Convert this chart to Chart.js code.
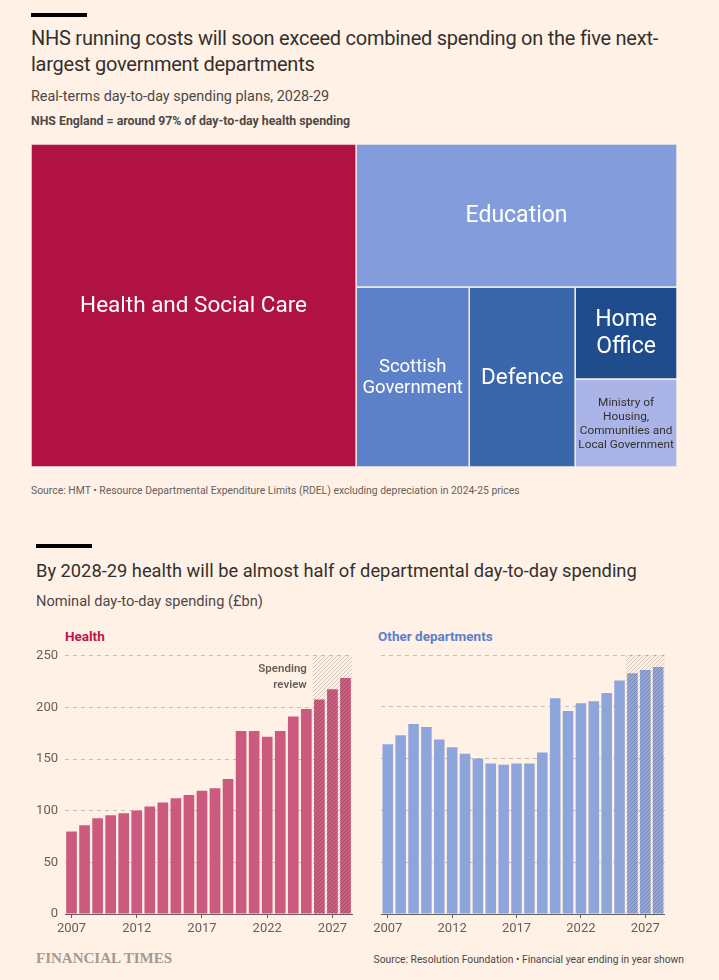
<!DOCTYPE html>
<html>
<head>
<meta charset="utf-8">
<script src="https://cdn.jsdelivr.net/npm/chart.js@4.4.1/dist/chart.umd.min.js"></script>
<style>
  html, body { margin: 0; padding: 0; }
  body { width: 719px; height: 980px; background: #fff1e5; position: relative; overflow: hidden;
         font-family: Roboto, "Open Sans", sans-serif; color: #33302e; }
  .abs { position: absolute; white-space: nowrap; }
  .rule { position: absolute; width: 56px; height: 4px; background: #000; }
  #title1 { left: 31px; top: 25px; font-size: 20px; line-height: 26px; letter-spacing: -0.25px; }
  #sub1 { left: 31px; top: 88px; font-size: 14.4px; line-height: 18px; color: #4d4845; }
  #note1 { left: 31px; top: 113px; font-size: 12.3px; line-height: 16px; font-weight: 700; color: #4d4845; }
  #src1 { left: 31px; top: 484px; font-size: 10.4px; line-height: 14px; color: #66605c; }
  #title2 { left: 36px; top: 559px; font-size: 18.3px; line-height: 24px; }
  #sub2 { left: 36px; top: 592px; font-size: 14.6px; line-height: 18px; color: #4d4845; }
  #labHealth { left: 65px; top: 628px; font-size: 13.5px; line-height: 16px; font-weight: 700; color: #b8174b; }
  #labOther { left: 378px; top: 628px; font-size: 13.5px; line-height: 16px; font-weight: 700; color: #5b80cd; }
  #ft { left: 36px; top: 949px; font-family: "Liberation Serif", "DejaVu Serif", serif; font-size: 15px;
        line-height: 18px; font-weight: 700; color: #a29a93; }
  #src2 { right: 35px; top: 953px; font-size: 10.3px; line-height: 14px; color: #4d4845; }
  canvas { position: absolute; }
</style>
</head>
<body>
<div class="rule" style="left:31px;top:13px;"></div>
<div id="title1" class="abs">NHS running costs will soon exceed combined spending on the five next-<br>largest government departments</div>
<div id="sub1" class="abs">Real-terms day-to-day spending plans, 2028-29</div>
<div id="note1" class="abs">NHS England = around 97% of day-to-day health spending</div>
<canvas id="tree" width="646" height="323" style="left:31px;top:144px;"></canvas>
<div id="src1" class="abs">Source: HMT • Resource Departmental Expenditure Limits (RDEL) excluding depreciation in 2024-25 prices</div>

<div class="rule" style="left:36px;top:544px;"></div>
<div id="title2" class="abs">By 2028-29 health will be almost half of departmental day-to-day spending</div>
<div id="sub2" class="abs">Nominal day-to-day spending (£bn)</div>
<div id="labHealth" class="abs">Health</div>
<div id="labOther" class="abs">Other departments</div>
<canvas id="health" width="340" height="302" style="left:20px;top:641px;"></canvas>
<canvas id="other" width="340" height="298" style="left:370px;top:645px;"></canvas>
<div id="ft" class="abs">FINANCIAL TIMES</div>
<div id="src2" class="abs">Source: Resolution Foundation • Financial year ending in year shown</div>

<script>
// ---- treemap data (real-terms RDEL 2028-29, £bn)
const departments = ['Health and Social Care', 'Education', 'Scottish Government', 'Defence',
  'Home Office', 'Ministry of Housing, Communities and Local Government'];
const deptLabels = [['Health and Social Care'], ['Education'], ['Scottish', 'Government'], ['Defence'],
  ['Home', 'Office'], ['Ministry of', 'Housing,', 'Communities and', 'Local Government']];
const rdel = [213, 93, 41.3, 38.7, 19, 18.2];
// nesting of the cells, split alternately across / down
const treeGroups = [0, [1, [2, 3, [4, 5]]]];

// ---- bar data (nominal £bn, financial year ending in year shown)
const years = [2007, 2008, 2009, 2010, 2011, 2012, 2013, 2014, 2015, 2016, 2017,
  2018, 2019, 2020, 2021, 2022, 2023, 2024, 2025, 2026, 2027, 2028];
const healthSpend = [80, 86, 92.8, 95.7, 97.6, 100.2, 104, 107.9, 112, 115.2, 119.4,
  121.7, 130.7, 177.2, 177.2, 171.7, 177.2, 191.3, 198.4, 207.7, 217.7, 228.4];
const otherSpend = [163.9, 172.6, 183.5, 180.6, 168.4, 161, 154.6, 150.1, 145.2, 144, 145.2,
  145.2, 155.8, 208.2, 196, 203.4, 205.3, 213.4, 225.3, 232.3, 235.5, 238.4];
const yTicks = [0, 50, 100, 150, 200, 250];
const reviewFrom = 2026;

const cellColours = ['#b01244', '#839cdb', '#5d81c8', '#3a66ab', '#1e4c8c', '#aab4e6'];
const cellText = [
  { size: 22.5, color: '#ffffff' }, { size: 23, color: '#ffffff' }, { size: 18.5, color: '#ffffff' },
  { size: 22.5, color: '#ffffff' }, { size: 23, color: '#ffffff' }, { size: 11.8, color: '#33302e' }
];

Chart.defaults.font.family = 'Roboto, "Open Sans", sans-serif';
Chart.defaults.color = '#66605c';

// ---- treemap layout (slice and dice on the value sums)
function groupValue(n) {
  return typeof n === 'number' ? rdel[n] : n.reduce((s, m) => s + groupValue(m), 0);
}
function layoutCells(node, x0, y0, x1, y1, across, out) {
  if (typeof node === 'number') { out[node] = { x0, y0, x1, y1 }; return out; }
  const total = groupValue(node);
  let pos = across ? x0 : y0;
  node.forEach((n) => {
    const span = (across ? x1 - x0 : y1 - y0) * groupValue(n) / total;
    if (across) layoutCells(n, pos, y0, pos + span, y1, false, out);
    else layoutCells(n, x0, pos, x1, pos + span, true, out);
    pos += span;
  });
  return out;
}
const cells = layoutCells(treeGroups, 0, 0, 1, 1, true, []);

const cellLabels = {
  id: 'cellLabels',
  afterDatasetsDraw(chart) {
    const { ctx, scales: { x, y } } = chart;
    ctx.save();
    ctx.textAlign = 'center';
    ctx.textBaseline = 'middle';
    cells.forEach((c, i) => {
      const cx = x.getPixelForValue((c.x0 + c.x1) / 2);
      const cy = y.getPixelForValue((c.y0 + c.y1) / 2);
      const st = cellText[i];
      const lh = st.size * 1.17;
      const lines = deptLabels[i];
      ctx.font = `${st.size}px Roboto, "Open Sans", sans-serif`;
      ctx.fillStyle = st.color;
      lines.forEach((ln, k) => {
        ctx.fillText(ln, cx, cy + 1 + (k - (lines.length - 1) / 2) * lh);
      });
    });
    ctx.restore();
  }
};

new Chart(document.getElementById('tree'), {
  type: 'scatter',
  data: {
    datasets: cells.map((c, i) => ({
      label: departments[i],
      data: [
        { x: c.x0, y: c.y0 }, { x: c.x1, y: c.y0 }, { x: c.x1, y: c.y1 },
        { x: c.x0, y: c.y1 }, { x: c.x0, y: c.y0 }
      ],
      showLine: true,
      fill: 'shape',
      backgroundColor: cellColours[i],
      borderColor: '#f3ece6',
      borderWidth: 1.5,
      pointRadius: 0,
      tension: 0
    }))
  },
  options: {
    responsive: false,
    animation: false,
    layout: { padding: 0 },
    plugins: { legend: { display: false }, tooltip: { enabled: false } },
    scales: {
      x: { type: 'linear', min: 0, max: 1, display: false },
      y: { type: 'linear', min: 0, max: 1, reverse: true, display: false }
    }
  },
  plugins: [cellLabels]
});

// ---- bar charts
function hatchPattern() {
  const p = document.createElement('canvas');
  p.width = 4; p.height = 4;
  const g = p.getContext('2d');
  g.strokeStyle = 'rgba(70,50,50,0.24)';
  g.lineWidth = 1;
  g.beginPath();
  g.moveTo(0, 4); g.lineTo(4, 0);
  g.moveTo(-1, 1); g.lineTo(1, -1);
  g.moveTo(3, 5); g.lineTo(5, 3);
  g.stroke();
  return p;
}

function reviewShade(withNote) {
  return {
    id: 'reviewShade',
    afterDatasetsDraw(chart) {
      const { ctx, chartArea, scales: { x } } = chart;
      const idx = years.indexOf(reviewFrom);
      const half = (x.getPixelForValue(1) - x.getPixelForValue(0)) / 2;
      const left = x.getPixelForValue(idx) - half;
      ctx.save();
      ctx.fillStyle = ctx.createPattern(hatchPattern(), 'repeat');
      ctx.fillRect(left, chartArea.top, chartArea.right - left, chartArea.bottom - chartArea.top);
      if (withNote) {
        ctx.font = '600 11.5px Roboto, "Open Sans", sans-serif';
        ctx.fillStyle = '#66605c';
        ctx.textAlign = 'right';
        ctx.textBaseline = 'middle';
        ctx.fillText('Spending', left - 6, chartArea.top + 13);
        ctx.fillText('review', left - 6, chartArea.top + 29);
      }
      ctx.restore();
    }
  };
}

function barChart(id, values, colour, showY, leftW, rightPad, topPad) {
  return new Chart(document.getElementById(id), {
    type: 'bar',
    data: {
      labels: years,
      datasets: [{
        data: values,
        backgroundColor: colour,
        barPercentage: 0.82,
        categoryPercentage: 1
      }]
    },
    options: {
      responsive: false,
      animation: false,
      layout: { padding: { top: topPad, right: rightPad, bottom: 0, left: 0 } },
      plugins: { legend: { display: false }, tooltip: { enabled: false } },
      scales: {
        x: {
          offset: true,
          border: { display: true, color: '#66605c', width: 1 },
          grid: {
            offset: false,
            drawOnChartArea: false,
            drawTicks: true,
            tickLength: 4,
            color: (c) => (years[c.index] - 2007) % 5 === 0 ? '#66605c' : 'rgba(0,0,0,0)'
          },
          ticks: {
            autoSkip: false,
            maxRotation: 0,
            padding: 3,
            font: { size: 13 },
            color: '#66605c',
            callback: (v, i) => (years[i] - 2007) % 5 === 0 ? String(years[i]) : ''
          },
          afterFit: (s) => { s.height = 29; }
        },
        y: {
          min: 0,
          max: 250,
          afterBuildTicks: (s) => { s.ticks = yTicks.map((v) => ({ value: v })); },
          grid: {
            drawTicks: false,
            color: (c) => c.tick.value === 0 ? 'rgba(0,0,0,0)' : 'rgba(102,96,92,0.35)',
            lineWidth: 1
          },
          border: { display: false, dash: [4, 4] },
          ticks: { display: showY, padding: 7, font: { size: 13 }, color: '#66605c' },
          afterFit: (s) => { s.width = leftW; }
        }
      }
    },
    plugins: [reviewShade(showY)]
  });
}

barChart('health', healthSpend, '#cc5a7e', true, 45, 8, 6);
barChart('other', otherSpend, '#8ea5dc', false, 7.5, 45.4, 10);
</script>
</body>
</html>
